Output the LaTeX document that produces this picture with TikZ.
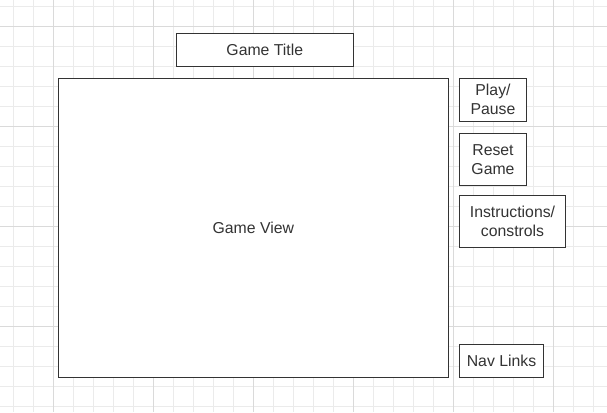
\documentclass[tikz,border=0pt]{standalone}
\usepackage{fontspec}
\setmainfont{Liberation Sans}
\definecolor{minorgrid}{HTML}{EBEBEB}
\definecolor{majorgrid}{HTML}{DADADA}
\definecolor{ink}{HTML}{333333}
\begin{document}
\begin{tikzpicture}[x=1pt,y=-1pt,
  box/.style={draw=ink,line width=1pt,fill=white,inner sep=0pt,align=center,
    text=ink,font=\fontsize{15.8}{19}\selectfont}]
\useasboundingbox (0,0) rectangle (607,412);
\fill[white] (0,0) rectangle (607,412);
% grid
\foreach \i in {0,...,29} {\draw[minorgrid,line width=0.8pt] ({13+20*\i},0) -- ({13+20*\i},412);}
\foreach \j in {0,...,20} {\draw[minorgrid,line width=0.8pt] (0,{6.67+20*\j}) -- (607,{6.67+20*\j});}
\foreach \i in {0,...,5} {\draw[majorgrid,line width=0.8pt] ({53+100*\i},0) -- ({53+100*\i},412);}
\foreach \j in {0,...,3} {\draw[majorgrid,line width=0.8pt] (0,{26.67+100*\j}) -- (607,{26.67+100*\j});}
% boxes
\node[box,minimum width=177.5pt,minimum height=33pt] (title) at (264.8,49.8) {Game Title};
\node[box,minimum width=390pt,minimum height=299pt] (view) at (253.3,227.8) {Game View};
\node[box,minimum width=67.4pt,minimum height=43pt] (play) at (493,99.8) {Play/\\Pause};
\node[box,minimum width=67.4pt,minimum height=52pt] (reset) at (493,159.3) {Reset\\Game};
\node[box,minimum width=106.4pt,minimum height=52pt] (instr) at (512.5,221.3) {Instructions/\\constrols};
\node[box,minimum width=84.4pt,minimum height=33pt] (nav) at (501.5,360.8) {Nav Links};
\end{tikzpicture}
\end{document}
